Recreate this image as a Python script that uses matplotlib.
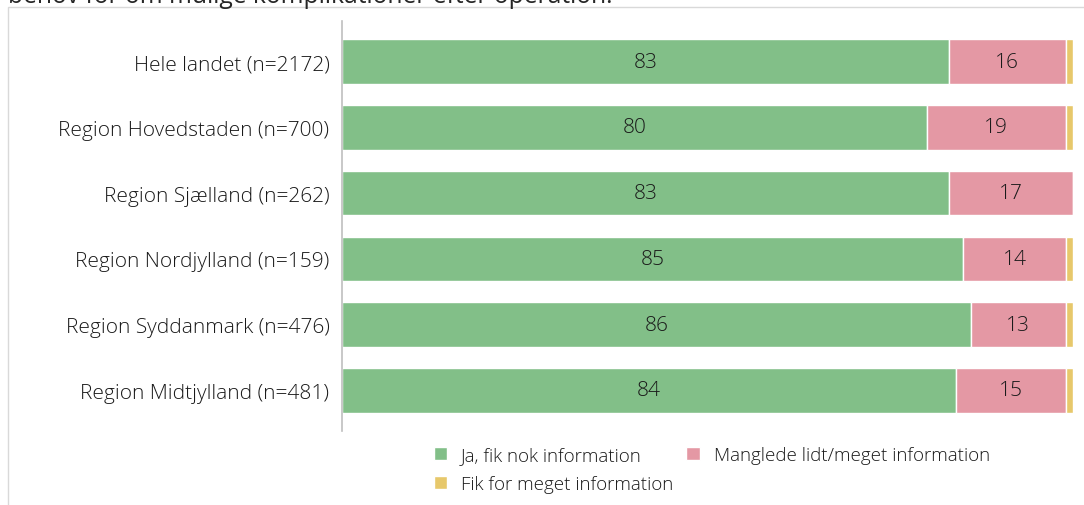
import matplotlib.pyplot as plt
from matplotlib.patches import Rectangle

plt.rcParams['font.family'] = ['Open Sans', 'DejaVu Sans']

regions = ['Hele landet (n=2172)', 'Region Hovedstaden (n=700)', 'Region Sjælland (n=262)',
           'Region Nordjylland (n=159)', 'Region Syddanmark (n=476)', 'Region Midtjylland (n=481)']
ja = [83, 80, 83, 85, 86, 84]
manglede = [16, 19, 17, 14, 13, 15]
for_meget = [1, 1, 0, 1, 1, 1]

series = ['Ja, fik nok information', 'Manglede lidt/meget information', 'Fik for meget information']
colors = ['#82bf88', '#e498a4', '#e7c86b']

fig = plt.figure(figsize=(10.84, 5.06), dpi=100)
ax = fig.add_axes([342 / 1084, 1 - 432 / 506, 731 / 1084, 410 / 506])

# ramme omkring figuren
fig.patches.append(Rectangle((8 / 1084, -0.1), 1.2, 1 - 8 / 506 + 0.1, transform=fig.transFigure,
                             fill=False, edgecolor='#d9d9d9', linewidth=1))
fig.text(8 / 1084, 1 - 3 / 506, 'behov for om mulige komplikationer efter operation.',
         fontsize=17.7, color='#262626', va='baseline', ha='left')

y = list(range(len(regions)))
left = [0] * len(regions)
handles = []
for vals, col, name in zip([ja, manglede, for_meget], colors, series):
    bars = ax.barh(y, vals, left=left, height=0.68, color=col, edgecolor='white', linewidth=1, label=name)
    handles.append(bars)
    if name != series[2]:
        for yi, l, v in zip(y, left, vals):
            ax.text(l + v / 2, yi, str(v), ha='center', va='center', fontsize=15,
                    color='#1a1a1a', fontweight='light')
    left = [a + b for a, b in zip(left, vals)]

ax.set_xlim(0, 100)
ax.set_ylim(len(regions) - 0.5 + 0.12, -0.5 - 0.12)
ax.set_yticks(y)
ax.set_yticklabels(regions, fontsize=15, color='#1a1a1a', fontweight='light')
ax.tick_params(axis='y', length=0, pad=9)
ax.set_xticks([])
for s in ['top', 'right', 'bottom']:
    ax.spines[s].set_visible(False)
ax.spines['left'].set_color('#bfbfbf')
ax.spines['left'].set_linewidth(1.2)

leg = fig.legend(handles=[handles[0], handles[2], handles[1]],
                 labels=[series[0], series[2], series[1]],
                 ncol=2, loc='upper left', bbox_to_anchor=(417 / 1084, 1 - 430 / 506),
                 frameon=False, handlelength=0.7, handleheight=0.7,
                 handletextpad=0.75, columnspacing=0.7, labelspacing=0.6,
                 prop={'size': 13.5, 'weight': 'light'})
for t in leg.get_texts():
    t.set_color('#1a1a1a')

fig.savefig('out.png', dpi=100)
